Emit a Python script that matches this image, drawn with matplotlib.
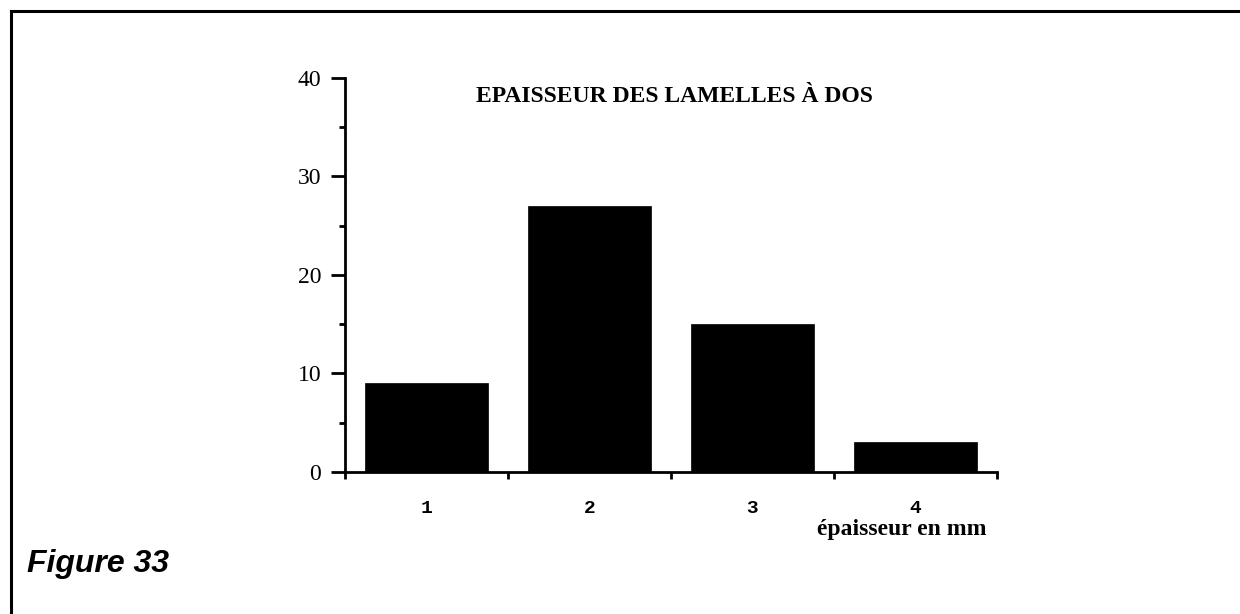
import matplotlib
matplotlib.use("Agg")
import matplotlib.pyplot as plt
from matplotlib.lines import Line2D
from matplotlib.ticker import MultipleLocator

# épaisseur des lamelles à dos (mm) et effectifs
classes = ["1", "2", "3", "4"]
effectifs = [9, 27, 15, 3]

fig = plt.figure(figsize=(12.4, 6.14), dpi=100)
ax = fig.add_axes([0.2782, 0.2313, 0.5258, 0.6417])

pos = list(range(len(classes)))
ax.bar(pos, effectifs, width=0.76, color="black", edgecolor="black", linewidth=0.5)

ax.set_xlim(-0.5, len(classes) - 0.5)
ax.set_ylim(0, 40)

# graduations
ax.set_xticks([p - 0.5 for p in pos] + [len(classes) - 0.5])
ax.set_xticklabels([])
ax.set_xticks(pos, classes, minor=True)
ax.tick_params(axis="x", which="major", direction="out", length=5, width=2)
ax.tick_params(axis="x", which="minor", length=0, pad=20)
for lab in ax.get_xticklabels(minor=True):
    lab.set_fontfamily("Liberation Mono")
    lab.set_fontweight("bold")
    lab.set_fontsize(14)

ax.yaxis.set_major_locator(MultipleLocator(10))
ax.yaxis.set_minor_locator(MultipleLocator(5))
ax.tick_params(axis="y", which="major", direction="out", length=10, width=2, pad=7)
ax.tick_params(axis="y", which="minor", direction="out", length=4, width=2)
for lab in ax.get_yticklabels():
    lab.set_fontfamily("Liberation Serif")
    lab.set_fontsize(17)

for s in ["top", "right"]:
    ax.spines[s].set_visible(False)
for s in ["left", "bottom"]:
    ax.spines[s].set_linewidth(2)

ax.text(0.506, 0.954, "EPAISSEUR DES LAMELLES À DOS", transform=ax.transAxes,
        ha="center", va="center", fontfamily="Liberation Serif",
        fontweight="bold", fontsize=17)
ax.text(0.854, -0.160, "épaisseur en mm", transform=ax.transAxes,
        ha="center", va="baseline", fontfamily="Liberation Serif",
        fontweight="bold", fontsize=17)

fig.text(0.022, 0.068, "Figure 33", ha="left", va="baseline",
         fontfamily="Liberation Sans", fontweight="bold", fontstyle="italic",
         fontsize=23)

# cadre (haut et gauche)
fig.add_artist(Line2D([0.0085, 1.0], [0.9825, 0.9825], color="black", linewidth=2.2,
                      transform=fig.transFigure))
fig.add_artist(Line2D([0.0085, 0.0085], [0.0, 0.9825], color="black", linewidth=2.2,
                      transform=fig.transFigure))

fig.savefig("out.png", dpi=100)
